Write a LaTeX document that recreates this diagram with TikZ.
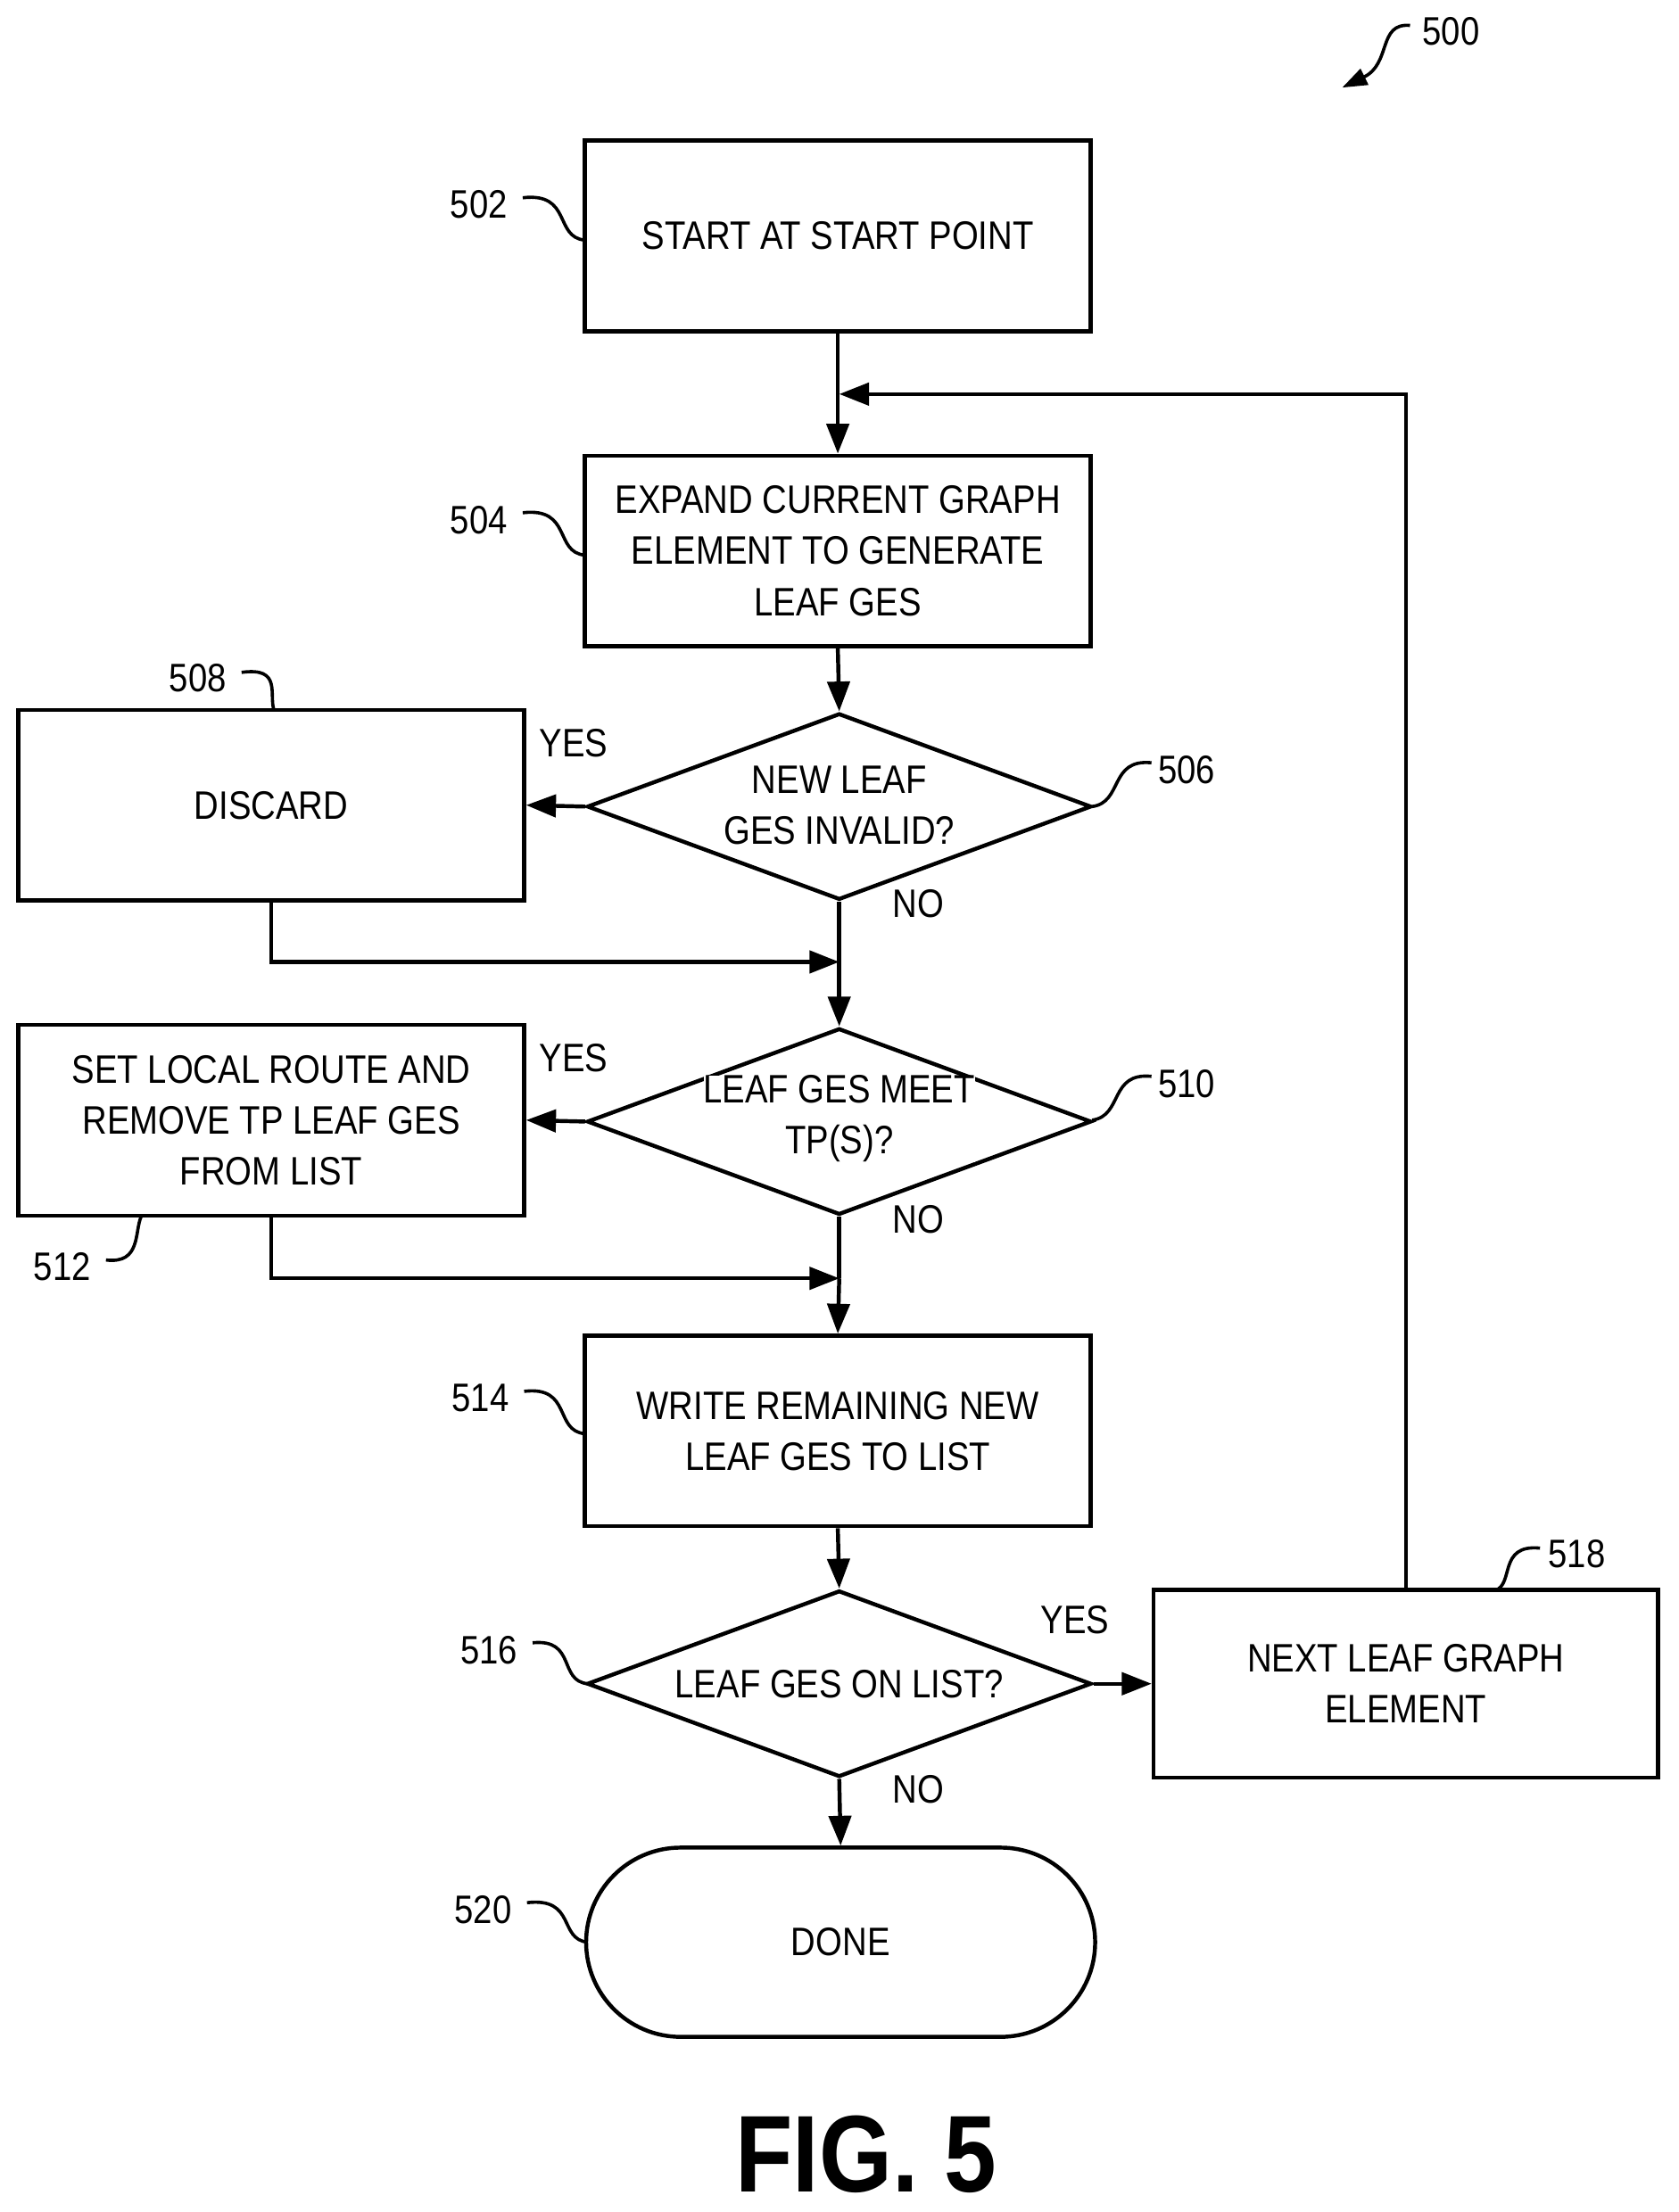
\documentclass[tikz,border=0pt]{standalone}
\usepackage{fontspec}
\setmainfont{Liberation Sans}[FakeStretch=0.86]
\usetikzlibrary{arrows.meta,shapes.geometric,shapes.misc}
\begin{document}
\begin{tikzpicture}[x=0.02cm,y=-0.02cm,
  line width=1.6pt,
  txt/.style={font=\fontsize{16}{20.5}\selectfont,align=center},
  box/.style={draw,rectangle,minimum width=358*0.02cm,minimum height=135*0.02cm,inner sep=0pt,txt},
  dia/.style={draw,diamond,minimum width=357*0.02cm,minimum height=132*0.02cm,aspect=2.7,inner sep=0pt,txt},
  arr/.style={-{Triangle[length=12pt,width=9pt]}},
  lab/.style={font=\fontsize{16}{18}\selectfont},
  lead/.style={line width=1.3pt}]
\useasboundingbox (0,0) rectangle (1188,1566);
\node[box] (b502) at (593,167) {START AT START POINT};
\node[box] (b504) at (593,390) {EXPAND CURRENT GRAPH\\ELEMENT TO GENERATE\\LEAF GES};
\node[dia] (d506) at (594,571) {};
\node[txt] at (594,570) {NEW LEAF\\GES INVALID?};
\node[box] (b508) at (192,570) {DISCARD};
\node[dia] (d510) at (594,794) {};
\node[txt,fill=white,inner sep=0pt] at (594,792) {LEAF GES MEET\\TP(S)?};
\node[box] (b512) at (192,793) {SET LOCAL ROUTE AND\\REMOVE TP LEAF GES\\FROM LIST};
\node[box] (b514) at (593,1013) {WRITE REMAINING NEW\\LEAF GES TO LIST};
\node[dia] (d516) at (594,1192) {};
\node[txt] at (594,1192) {LEAF GES ON LIST?};
\node[box,minimum width=357*0.02cm,minimum height=133*0.02cm] (b518) at (995,1192) {NEXT LEAF GRAPH\\ELEMENT};
\node[draw,rounded rectangle,minimum width=372*0.02cm,minimum height=134*0.02cm,txt] (b520) at (595,1375) {DONE};
\coordinate (m1) at (594,681);
\coordinate (m2) at (594,905);
\coordinate (lp) at (594,279);
\draw[arr] (b502.south) -- (b504.north);
\draw[arr] (b504.south) -- (d506.north);
\draw[arr] (d506.west) -- (b508.east);
\draw (d506.south) -- (m1);
\draw[arr] (b508.south) |- (m1);
\draw[arr] (m1) -- (d510.north);
\draw[arr] (d510.west) -- (b512.east);
\draw (d510.south) -- (m2);
\draw[arr] (b512.south) |- (m2);
\draw[arr] (m2) -- (b514.north);
\draw[arr] (b514.south) -- (d516.north);
\draw[arr] (d516.east) -- (b518.west);
\draw[arr] (d516.south) -- (b520.north);
\draw[arr] (b518.north) |- (lp);
\node[txt] at (406,526) {YES};
\node[txt] at (650,640) {NO};
\node[txt] at (406,749) {YES};
\node[txt] at (650,863) {NO};
\node[txt] at (761,1147) {YES};
\node[txt] at (650,1267) {NO};
% reference labels
\node[lab] at (339,145) {502};
\draw[lead] (370,140) .. controls (405,136) and (392,168) .. (414,170);
\node[lab] at (339,368) {504};
\draw[lead] (370,363) .. controls (405,359) and (392,391) .. (414,393);
\node[lab] at (140,480) {508};
\draw[lead] (171,476) .. controls (200,472) and (190,492) .. (194,503);
\node[lab] at (840,545) {506};
\draw[lead] (815,540) .. controls (785,537) and (795,568) .. (773,571);
\node[lab] at (840,767) {510};
\draw[lead] (815,762) .. controls (785,759) and (795,790) .. (773,793);
\node[lab] at (44,897) {512};
\draw[lead] (75,892) .. controls (100,895) and (95,872) .. (100,861);
\node[lab] at (340,990) {514};
\draw[lead] (371,985) .. controls (405,981) and (392,1013) .. (414,1015);
\node[lab] at (346,1168) {516};
\draw[lead] (377,1163) .. controls (408,1160) and (395,1190) .. (416,1192);
\node[lab] at (1116,1100) {518};
\draw[lead] (1090,1096) .. controls (1060,1093) and (1072,1122) .. (1058,1126);
\node[lab] at (342,1352) {520};
\draw[lead] (373,1347) .. controls (408,1343) and (395,1373) .. (416,1375);
\node[lab] at (1027,22) {500};
\draw[lead,-{Triangle[length=10pt,width=7pt]}] (998,18) .. controls (975,16) and (985,45) .. (950,62);
\node[font=\fontsize{44}{48}\selectfont\bfseries] at (613,1525) {FIG. 5};
\end{tikzpicture}
\end{document}
